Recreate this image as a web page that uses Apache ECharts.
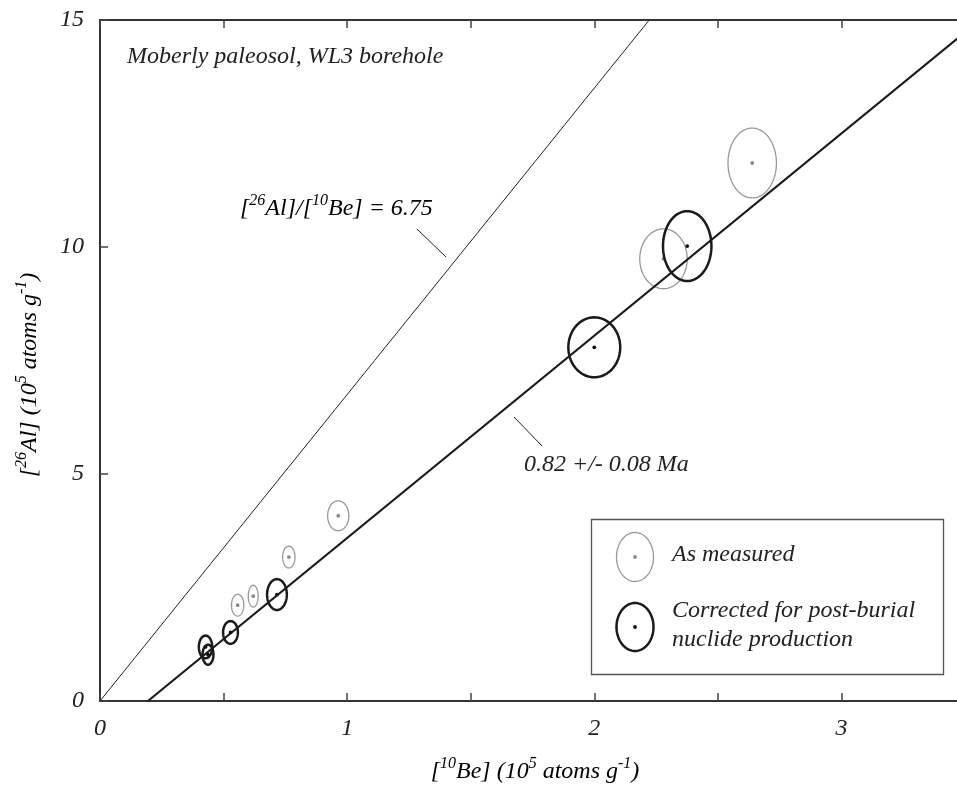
<!DOCTYPE html>
<html><head><meta charset="utf-8">
<script src="https://cdn.jsdelivr.net/npm/echarts@6/dist/echarts.min.js"></script>
<style>html,body{margin:0;padding:0;background:#fff}#c{width:957px;height:785px}</style>
</head><body><div id="c"></div>
<script>
// ---- data ----
const xTickLabels = ['0', '1', '2', '3'];
const yTickLabels = ['0', '5', '10', '15'];
const measuredX  = [0.557, 0.620, 0.764, 0.964, 2.280, 2.639];
const measuredY  = [2.11, 2.31, 3.17, 4.08, 9.74, 11.85];
const measuredSx = [0.025, 0.020, 0.025, 0.043, 0.096, 0.098];
const measuredSy = [0.24, 0.24, 0.24, 0.33, 0.66, 0.77];
const correctedX  = [0.427, 0.437, 0.528, 0.716, 2.000, 2.376];
const correctedY  = [1.19, 1.02, 1.51, 2.345, 7.79, 10.02];
const correctedSx = [0.027, 0.022, 0.030, 0.040, 0.105, 0.098];
const correctedSy = [0.25, 0.22, 0.25, 0.34, 0.66, 0.77];
const ratioLine = [[0, 0], [15 / 6.75, 15]];
const isochronLine = [[0.194, 0], [3.5, 14.73]];

const FONT = 'Liberation Serif';
const TXT = '#222';
const FS = 24;

function zip4(a, b, c, d) { return a.map((v, i) => [v, b[i], c[i], d[i]]); }
function ellipsePts(cx, cy, rx, ry) {
  const p = [];
  for (let i = 0; i < 72; i++) {
    const t = i / 72 * Math.PI * 2;
    p.push([cx + rx * Math.cos(t), cy + ry * Math.sin(t)]);
  }
  return p;
}
function ellipseRenderer(stroke, lw, dot) {
  return function (params, api) {
    const c = api.coord([api.value(0), api.value(1)]);
    const s = api.size([api.value(2), api.value(3)]);
    return {
      type: 'group',
      children: [
        { type: 'polygon', shape: { points: ellipsePts(c[0], c[1], s[0], s[1]) },
          style: { fill: 'none', stroke: stroke, lineWidth: lw } },
        { type: 'circle', shape: { cx: c[0], cy: c[1], r: 1.9 }, style: { fill: dot } }
      ]
    };
  };
}

const baseRich = {
  b: { fontFamily: FONT, fontStyle: 'italic', fontSize: FS, color: TXT, lineHeight: 30, verticalAlign: 'bottom' },
  s: { fontFamily: FONT, fontStyle: 'italic', fontSize: 16, color: TXT, lineHeight: 30, verticalAlign: 'top', padding: [2, 0, 0, 0] }
};
function txt(x, y, text, extra) {
  return Object.assign({ type: 'text', x: x, y: y, style: { text: text, fontFamily: FONT, fontStyle: 'italic', fontSize: FS, fill: TXT, textVerticalAlign: 'middle' } }, extra || {});
}
function rtxt(x, y, text, align, rot) {
  const e = { type: 'text', x: x, y: y, style: { text: text, rich: baseRich, align: align || 'left', verticalAlign: 'middle' } };
  if (rot) e.rotation = rot;
  return e;
}

const axisCommon = {
  type: 'value', splitLine: { show: false },
  axisLine: { show: true, onZero: false, lineStyle: { color: '#333', width: 2 } },
  axisTick: { show: true, inside: true, length: 8, lineStyle: { color: '#444', width: 1.5 } }
};

const chart = echarts.init(document.getElementById('c'), null, { renderer: 'canvas' });
chart.setOption({
  animation: false,
  backgroundColor: '#fff',
  grid: { left: 100, top: 20, width: 865, height: 681, outerBoundsMode: 'none', containLabel: false },
  xAxis: [
    Object.assign({}, axisCommon, { position: 'bottom', min: 0, max: 3.5, interval: 0.5,
      axisLabel: { margin: 16, fontFamily: FONT, fontStyle: 'italic', fontSize: FS, color: TXT,
        formatter: v => (Math.abs(v - Math.round(v)) < 1e-9 && xTickLabels.includes(String(Math.round(v)))) ? String(Math.round(v)) : '' } }),
    Object.assign({}, axisCommon, { position: 'top', min: 0, max: 3.5, interval: 0.5, axisLabel: { show: false } })
  ],
  yAxis: [
    Object.assign({}, axisCommon, { position: 'left', min: 0, max: 15, interval: 5,
      axisLabel: { margin: 16, fontFamily: FONT, fontStyle: 'italic', fontSize: FS, color: TXT,
        formatter: v => yTickLabels.includes(String(v)) ? String(v) : '' } }),
    Object.assign({}, axisCommon, { position: 'right', min: 0, max: 15, interval: 5, axisLabel: { show: false } })
  ],
  series: [
    { type: 'line', data: ratioLine, symbol: 'none', lineStyle: { color: '#222', width: 1 }, z: 2 },
    { type: 'custom', data: zip4(measuredX, measuredY, measuredSx, measuredSy),
      renderItem: ellipseRenderer('#999', 1.3, '#8a8a8a'), z: 3 },
    { type: 'line', data: isochronLine, symbol: 'none', lineStyle: { color: '#1a1a1a', width: 2.2 }, z: 4 },
    { type: 'custom', data: zip4(correctedX, correctedY, correctedSx, correctedSy),
      renderItem: ellipseRenderer('#1a1a1a', 2.5, '#111'), z: 5 }
  ],
  graphic: [
    txt(127, 57, 'Moberly paleosol, WL3 borehole'),
    rtxt(240, 206, '{b|[}{s|26}{b|Al]/[}{s|10}{b|Be] = 6.75}'),
    { type: 'line', shape: { x1: 417, y1: 229, x2: 446, y2: 257 }, style: { stroke: '#222', lineWidth: 1 } },
    txt(524, 465, '0.82 +/- 0.08 Ma'),
    { type: 'line', shape: { x1: 514, y1: 417, x2: 542, y2: 446 }, style: { stroke: '#222', lineWidth: 1 } },
    rtxt(535, 769, '{b|[}{s|10}{b|Be] (10}{s|5}{b| atoms g}{s|-1}{b|)}', 'center'),
    rtxt(27, 375, '{b|[}{s|26}{b|Al] (10}{s|5}{b| atoms g}{s|-1}{b|)}', 'center', Math.PI / 2),
    // legend
    { type: 'rect', shape: { x: 591.5, y: 519.5, width: 352, height: 155 }, style: { fill: '#fff', stroke: '#555', lineWidth: 1.3 }, z: 10 },
    { type: 'polygon', shape: { points: ellipsePts(635, 557, 18.5, 24.5) }, style: { fill: 'none', stroke: '#999', lineWidth: 1.3 }, z: 11 },
    { type: 'circle', shape: { cx: 635, cy: 557, r: 1.9 }, style: { fill: '#8a8a8a' }, z: 11 },
    { type: 'polygon', shape: { points: ellipsePts(635, 627, 18.5, 24) }, style: { fill: 'none', stroke: '#1a1a1a', lineWidth: 2.5 }, z: 11 },
    { type: 'circle', shape: { cx: 635, cy: 627, r: 1.9 }, style: { fill: '#111' }, z: 11 },
    Object.assign(txt(672, 555, 'As measured'), { z: 11 }),
    Object.assign(txt(672, 611, 'Corrected for post-burial'), { z: 11 }),
    Object.assign(txt(672, 640, 'nuclide production'), { z: 11 })
  ]
});
</script></body></html>
